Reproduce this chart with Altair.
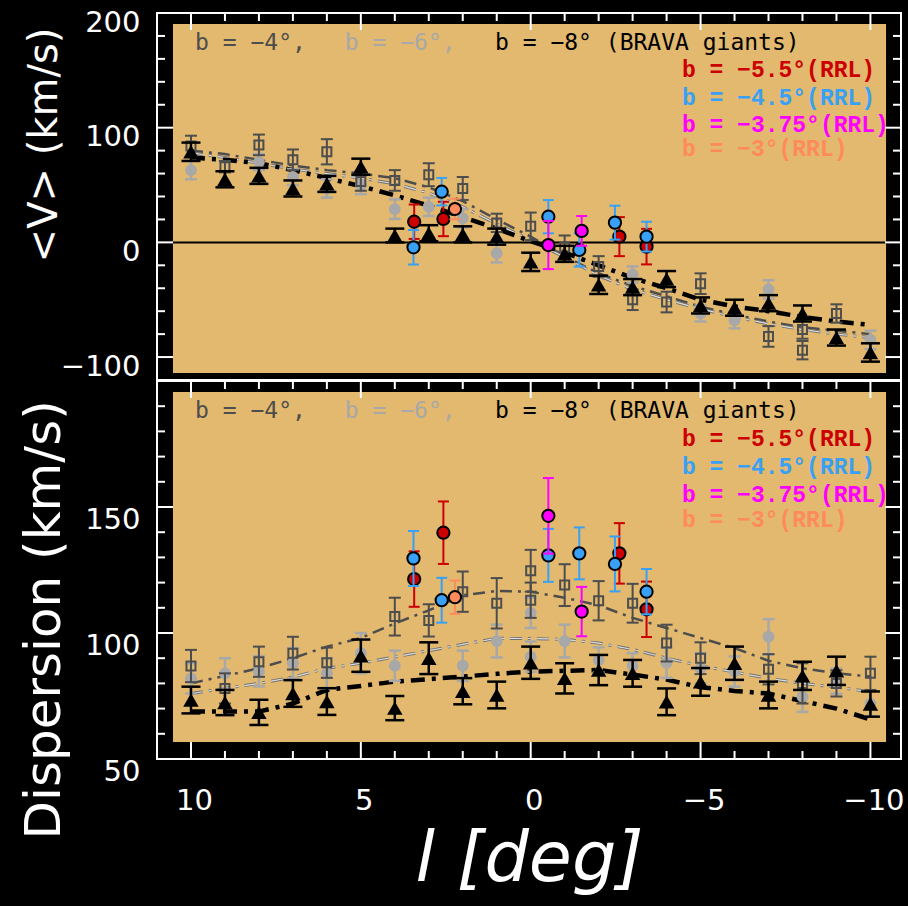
import altair as alt
import pandas as pd

# ------------------------------------------------------------------
# Galactic longitudes of the BRAVA fields (deg)
L_FIELDS = [10, 9, 8, 7, 6, 5, 4, 3, 2, 1, 0, -1, -2, -3, -4, -5, -6, -7, -8, -9, -10]

# BRAVA giants, b = -8 deg: mean velocity / dispersion (km/s)
b8_l = L_FIELDS
b8_v = [79, 55, 58, 47, 51, 66, 6, 8, 7, 5, -17, -10, -37, -39, -32, -55, -57, -53, -62, -83, -96]
b8_v_err = [8, 7, 7, 7, 7, 7, 6, 7, 7, 7, 8, 7, 8, 7, 7, 7, 7, 7, 7, 7, 8]
b8_sig = [73.4, 72.4, 68.5, 76, 72.8, 91, 70.2, 90, 76.9, 75.4, 88.2, 82, 85.3, 84, 72.7,
          80.6, 88, 75.4, 83, 85, 71.8]
b8_sig_err = [5.3, 5, 5, 5.3, 5.3, 6.4, 4.8, 6.3, 5.2, 5.3, 6.4, 6, 6, 5.3, 5.3, 5.5, 6.6,
              5.3, 5.6, 5.6, 5]

# BRAVA giants, b = -4 deg
b4_l_v = [10, 9, 8, 7, 6, 5, 4, 3, 2, 1, 0, -1, -2, -3, -4, -5, -7, -8, -8, -9]
b4_v = [84, 66, 85, 72, 79, 53, 54, 59, 47, 17, 14, -4, -21, -50, -52, -36, -82, -76, -94, -62]
b4_v_err = [9, 5, 9, 9, 11, 8, 9, 10, 10, 8, 12, 10, 9, 9, 9, 9, 9, 8, 8, 8]
b4_l_s = [10, 9, 8, 7, 6, 4, 3, 2, 1, 0, 0, -1, -2, -3, -4, -5, -7, -8, -9, -10]
b4_sig = [86.9, 78, 88.6, 92, 88.2, 106.5, 105, 116.4, 111.8, 124.7, 113, 119, 112.8, 111.8,
          96, 90, 85.6, 80, 80, 84]
b4_sig_err = [6.4, 6, 6, 6.5, 6, 7.5, 6.4, 8, 10, 8.3, 7, 8.3, 7.8, 7.7, 7.3, 6.3, 6, 8, 5.2, 6.6]

# BRAVA giants, b = -6 deg
b6_l_v = [10, 8, 7, 6, 5, 4, 3, 2, 1, -3, -5, -6, -7, -10]
b6_v = [63, 70, 57, 47, 50, 29, 31, 21, -9.5, -28, -62, -68, -41, -85]
b6_v_err = [8, 7, 7, 8, 8, 8.5, 8, 8, 8, 7, 7, 7, 8, 8]
b6_l_s = [10, 9, 8, 7, 6, 5, 4, 2, 1, 0, 0, -1, -2, -3, -4, -5, -6, -7, -8, -9, -10]
b6_sig = [82, 84, 84.8, 88, 84, 92, 87, 87, 96.8, 108, 90.6, 96.8, 89.3, 87, 88.2, 86, 84.7,
          98.5, 74.7, 80.9, 72]
b6_sig_err = [6, 6, 6, 6, 6, 8, 6, 6, 6.5, 6, 6, 6.5, 5, 5, 6, 6, 6, 7, 6, 5, 5]

# RR Lyrae fields
rrl55_l = [3.43, 2.57, -2.61, -3.41]
rrl55_v = [18, 20.4, 5, -3.7]
rrl55_v_err = [15, 15, 17, 15.5]
rrl55_sig = [121.4, 139.8, 131.6, 109.4]
rrl55_sig_err = [11, 12.4, 12, 11]

rrl45_l = [3.45, 2.62, -0.52, -1.43, -2.48, -3.41]
rrl45_v = [-4.3, 44.2, 22.4, -6.6, 17.2, 5]
rrl45_v_err = [15, 12, 14.5, 14.5, 14.8, 13]
rrl45_sig = [129.6, 113, 130.8, 131.6, 127.4, 116.4]
rrl45_sig_err = [10.9, 8.9, 10.5, 10.3, 10.9, 9]

rrl375_l = [-0.52, -1.5]
rrl375_v = [-2.3, 10]
rrl375_v_err = [21, 13]
rrl375_sig = [146.5, 108.5]
rrl375_sig_err = [15, 9.8]

rrl3_l = [2.23]
rrl3_v = [29.1]
rrl3_v_err = [9]
rrl3_sig = [114.2]
rrl3_sig_err = [6.6]

# Model curves for the three BRAVA latitudes
mod_l = L_FIELDS
mod4_v = [80, 77, 72, 67, 63, 60, 56, 48, 36, 20, 5, -12, -27, -38, -47, -56, -63, -69, -74, -77, -80]
mod6_v = [78, 74, 69, 64, 60, 56, 51, 43, 31, 16, 2, -13, -29, -41, -50, -58, -65, -71, -76, -80, -83]
mod8_v = [74, 72, 69, 63, 56, 49, 41, 32, 22, 12, 1, -9, -20, -31, -40, -50, -56, -60, -65, -69, -72]
mod4_sig = [80, 83, 86, 90, 94.6, 98, 103.8, 109, 115, 116.7, 116.4, 114, 111, 106, 102, 98, 94,
            89, 86, 84, 82.7]
mod6_sig = [76, 78, 80, 82.5, 86, 88, 90.5, 93, 95.5, 97.9, 97.8, 97.5, 96, 93.5, 90, 87, 84.5,
            82, 80, 78.5, 76.7]
mod8_sig = [68.8, 68.8, 68.8, 72, 77.4, 79, 80.7, 81.7, 82.7, 83.8, 84.7, 85, 85.3, 83.5, 81.5,
            78.5, 77, 76, 73, 70, 65.7]

# ------------------------------------------------------------------
# styling
C_B4 = "#4d4d4d"
C_B6 = "#a8a8a8"
C_RED = "#cc0000"
C_BLUE = "#38a0f5"
C_MAG = "#ff00ff"
C_SAL = "#ff8a5c"
C_PANEL = "#e2b96f"
FONT = "DejaVu Sans"
MONO = "DejaVu Sans Mono"
SERIF_MONO = "Liberation Mono"

W, H = 744, 746
X_LEFT, X_RIGHT = 11, -10.9
X_TITLE = 14.3          # longitude of the y-title column, left of the frame
PANEL_Y = {"top": (200, -120), "bot": (200, 50)}
PANEL_PX = {"top": (0, 367), "bot": (368, H)}

# pixels per data unit, used to turn tick lengths into data units
PX_PER_DEG = W / (X_LEFT - X_RIGHT)
PX_PER_UNIT = {p: (PANEL_PX[p][1] - PANEL_PX[p][0]) / (PANEL_Y[p][0] - PANEL_Y[p][1])
               for p in PANEL_Y}

X_SCALE = alt.Scale(domain=[X_LEFT, X_RIGHT], nice=False, zero=False)
SCALES = {
    p: alt.Scale(domain=[PANEL_Y[p][1], PANEL_Y[p][0]], range=[PANEL_PX[p][1], PANEL_PX[p][0]],
                 nice=False, zero=False)
    for p in PANEL_Y
}

X_AXIS = alt.Axis(
    orient="bottom", values=[10, 5, 0, -5, -10], title="l [deg]", domain=False, ticks=False,
    tickSize=0, grid=False, labelFlush=False, labelOverlap=False,
    labelFont=FONT, labelFontSize=29, labelColor="white", labelPadding=27, labelOffset=3,
    titleFont=FONT, titleFontSize=70, titleFontStyle="italic", titleFontWeight="normal",
    titleColor="white", titleBaseline="alphabetic", titleY=121,
)


def y_axis(values, label_offset):
    return alt.Axis(
        orient="left", values=values, title=None, domain=False, ticks=False, tickSize=0,
        grid=False, labelFlush=False, labelOverlap=False,
        labelFont=FONT, labelFontSize=29, labelColor="white", labelPadding=17,
        labelOffset=label_offset,
    )


AXES = {
    "top": y_axis([200, 100, 0, -100], 9),
    "bot": y_axis([150, 100, 50], 12),
}

ONE = pd.DataFrame({"k": [0]})


def xf(field):
    return alt.X(f"{field}:Q", scale=X_SCALE, axis=X_AXIS)


def xd(val):
    return alt.XDatum(val, type="quantitative", scale=X_SCALE, axis=X_AXIS)


def yf(field, panel):
    return alt.Y(f"{field}:Q", scale=SCALES[panel], axis=AXES[panel])


def yd(val, panel):
    return alt.YDatum(val, type="quantitative", scale=SCALES[panel], axis=AXES[panel])


def series(panel, l, val, err, shape, size, fill, stroke, stroke_width, bar_color, bar_width, cap):
    df = pd.DataFrame({"l": l, "val": val, "err": err})
    df["lo"] = df["val"] - df["err"]
    df["hi"] = df["val"] + df["err"]
    base = alt.Chart(df)
    bars = base.mark_rule(color=bar_color, strokeWidth=bar_width, opacity=1).encode(
        x=xf("l"), y=yf("lo", panel), y2="hi")
    caps = [
        base.mark_tick(orient="horizontal", color=bar_color, thickness=bar_width, size=cap,
                       opacity=1).encode(x=xf("l"), y=yf(end, panel))
        for end in ("lo", "hi")
    ]
    if fill is None:
        pts = base.mark_point(shape=shape, size=size, filled=False, color=stroke,
                              strokeWidth=stroke_width, opacity=1)
    elif stroke is None:
        pts = base.mark_point(shape=shape, size=size, filled=True, color=fill, opacity=1)
    else:
        pts = base.mark_point(shape=shape, size=size, filled=True, fill=fill, stroke=stroke,
                              strokeWidth=stroke_width, opacity=1)
    pts = pts.encode(x=xf("l"), y=yf("val", panel))
    return [bars] + caps + [pts]


def model(panel, l, val, color, width, dash):
    df = pd.DataFrame({"l": l, "val": val})
    return alt.Chart(df).mark_line(color=color, strokeWidth=width, strokeDash=dash,
                                   opacity=1).encode(x=xf("l"), y=yf("val", panel))


def label(panel, l, v, text, color, font=MONO, size=23, weight="normal", angle=0,
          align="left"):
    return alt.Chart(ONE).mark_text(text=text, color=color, font=font, fontSize=size,
                                    fontWeight=weight, align=align, baseline="middle",
                                    angle=angle).encode(x=xd(l), y=yd(v, panel))


def segment(panel, xa, xb, ya, yb):
    """One short white segment from (xa, ya) to (xb, yb) in data units."""
    return alt.Chart(ONE).mark_rule(color="white", strokeWidth=2, opacity=1).encode(
        x=xd(xa), x2=alt.X2Datum(xb), y=yd(ya, panel), y2=alt.Y2Datum(yb))


def frame(panel, y_major, y_minor, top_ticks, bottom_ticks):
    """White panel box with inward-pointing major/minor ticks on its edges."""
    y_hi, y_lo = PANEL_Y[panel]
    layers = [
        alt.Chart(ONE).mark_rect(fillOpacity=0, stroke="white", strokeWidth=2).encode(
            x=xd(X_LEFT), x2=alt.X2Datum(X_RIGHT), y=yd(y_hi, panel), y2=alt.Y2Datum(y_lo))
    ]
    for vals, length in ((y_major, 16), (y_minor, 8)):
        dl = length / PX_PER_DEG
        for v in vals:
            layers.append(segment(panel, X_LEFT, X_LEFT - dl, v, v))
            layers.append(segment(panel, X_RIGHT, X_RIGHT + dl, v, v))
    x_major = [10, 5, 0, -5, -10]
    x_minor = [v for v in L_FIELDS if v % 5 != 0]
    for vals, length in ((x_major, 17), (x_minor, 8)):
        dy = length / PX_PER_UNIT[panel]
        for v in vals:
            if top_ticks:
                layers.append(segment(panel, v, v, y_hi, y_hi - dy))
            if bottom_ticks:
                layers.append(segment(panel, v, v, y_lo, y_lo + dy))
    return layers


def background(panel, y1, y2):
    return alt.Chart(ONE).mark_rect(color=C_PANEL, opacity=1).encode(
        x=xd(10.53), x2=alt.X2Datum(-10.46), y=yd(y1, panel), y2=alt.Y2Datum(y2))


def panel_layers(panel, data, ticks, legend_y, rrl_y, brava8_text, title, title_y, title_size):
    layers = [background(panel, *(data["bg"]))]
    if panel == "top":
        layers.append(alt.Chart(ONE).mark_rule(color="black", strokeWidth=2).encode(
            x=xd(X_LEFT), x2=alt.X2Datum(X_RIGHT), y=yd(0, panel)))
    m4, m6, m8 = data["models"]
    layers += [
        model(panel, mod_l, m4, C_B4, 2.5, [12, 6, 3, 6]),
        model(panel, mod_l, m6, "#707070", 3, [12, 6, 3, 6]),
        model(panel, mod_l, m6, "#dcdcdc", 1.2, [12, 6, 3, 6]),
        model(panel, mod_l, m8, "black", 4.5, [14, 7, 4, 7]),
    ]
    (l6, v6, e6), (l4, v4, e4), (l8, v8, e8) = data["brava"]
    layers += series(panel, l6, v6, e6, "circle", 140, C_B6, None, 0, C_B6, 2.5, 12)
    layers += series(panel, l4, v4, e4, "square", 81, None, C_B4, 2, C_B4, 2, 12)
    layers += series(panel, l8, v8, e8, "triangle-up", 240, "black", None, 0, "black", 2.5, 19)
    for (l, v, e), col in zip(data["rrl"], (C_RED, C_BLUE, C_MAG, C_SAL)):
        layers += series(panel, l, v, e, "circle", 150, col, "black", 2, col, 2, 11)
    layers += [
        label(panel, 9.88, legend_y, "b = −4°,", C_B4),
        label(panel, 5.47, legend_y, "b = −6°,", C_B6),
        label(panel, 1.05, legend_y, brava8_text, "black"),
    ]
    for yv, txt, col in zip(rrl_y,
                            ("b = −5.5°(RRL)", "b = −4.5°(RRL)", "b = −3.75°(RRL)", "b = −3°(RRL)"),
                            (C_RED, C_BLUE, C_MAG, C_SAL)):
        layers.append(label(panel, -4.45, yv, txt, col, font=SERIF_MONO, size=23, weight="bold"))
    # vertical axis title
    layers.append(label(panel, X_TITLE, title_y, title, "white", font=FONT, size=title_size,
                        angle=270, align="center"))
    layers += frame(panel, *ticks)
    return layers


top_data = {
    "bg": (190.4, -113.9),
    "models": (mod4_v, mod6_v, mod8_v),
    "brava": ((b6_l_v, b6_v, b6_v_err), (b4_l_v, b4_v, b4_v_err), (b8_l, b8_v, b8_v_err)),
    "rrl": ((rrl55_l, rrl55_v, rrl55_v_err), (rrl45_l, rrl45_v, rrl45_v_err),
            (rrl375_l, rrl375_v, rrl375_v_err), (rrl3_l, rrl3_v, rrl3_v_err)),
}
bot_data = {
    "bg": (195.6, 56.7),
    "models": (mod4_sig, mod6_sig, mod8_sig),
    "brava": ((b6_l_s, b6_sig, b6_sig_err), (b4_l_s, b4_sig, b4_sig_err),
              (b8_l, b8_sig, b8_sig_err)),
    "rrl": ((rrl55_l, rrl55_sig, rrl55_sig_err), (rrl45_l, rrl45_sig, rrl45_sig_err),
            (rrl375_l, rrl375_sig, rrl375_sig_err), (rrl3_l, rrl3_sig, rrl3_sig_err)),
}

top_ticks = ([100, 0, -100], [v for v in range(-80, 200, 20) if v % 100 != 0], True, False)
bot_ticks = ([150, 100], [v for v in range(60, 200, 10) if v % 50 != 0], True, True)

top_layers = panel_layers("top", top_data, top_ticks, 173.8, [150.3, 125.9, 102.4, 81.4],
                          "b = −8° (BRAVA giants)", "<V>  (km/s)", 84.9, 40)
bot_layers = panel_layers("bot", bot_data, bot_ticks, 188.1, [177, 165.9, 154.8, 144.8],
                          "b = −8°  (BRAVA giants)", "Dispersion (km/s)", 105.2, 50)

top_panel = alt.layer(*top_layers)
bot_panel = alt.layer(*bot_layers)

chart = (
    alt.layer(top_panel, bot_panel)
    .resolve_scale(y="independent")
    .properties(
        width=W, height=H,
        padding={"left": 157, "top": 13, "right": 7, "bottom": 147},
        autosize=alt.AutoSizeParams(type="none"),
        background="black",
    )
    .configure_view(strokeWidth=0)
)

chart.save("out.html", embed_options={"renderer": "svg", "actions": False})
